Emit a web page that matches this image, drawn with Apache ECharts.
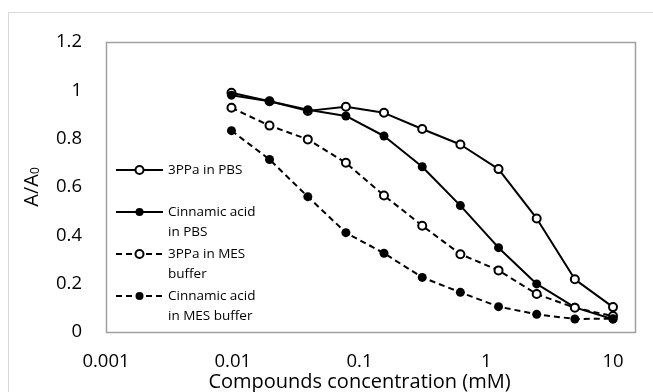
<!DOCTYPE html>
<html>
<head>
<meta charset="utf-8">
<script src="https://cdn.jsdelivr.net/npm/echarts@6/dist/echarts.min.js"></script>
<style>html,body{margin:0;padding:0;background:#fff;}#chart{width:653px;height:392px;}</style>
</head>
<body>
<div id="chart"></div>
<script>
// Concentrations (mM), two-fold dilution series
var concentrations = [0.00977, 0.0195, 0.0391, 0.0781, 0.156, 0.3125, 0.625, 1.25, 2.5, 5, 10];
var ppaPBS = [0.99, 0.955, 0.915, 0.932, 0.907, 0.84, 0.776, 0.674, 0.47, 0.218, 0.103];
var cinnPBS = [0.98, 0.955, 0.92, 0.894, 0.811, 0.684, 0.523, 0.349, 0.199, 0.102, 0.053];
var ppaMES = [0.928, 0.854, 0.797, 0.70, 0.565, 0.44, 0.322, 0.255, 0.157, 0.10, 0.066];
var cinnMES = [0.833, 0.714, 0.56, 0.411, 0.326, 0.226, 0.164, 0.105, 0.073, 0.054, 0.055];
var seriesNames = ['3PPa in PBS', 'Cinnamic acid\nin PBS', '3PPa in MES\nbuffer', 'Cinnamic acid\nin MES buffer'];
var xTickValues = [0.001, 0.01, 0.1, 1, 10];
var xTickLabels = ['0.001', '0.01', '0.1', '1', '10'];
var yTickLabels = ['0', '0.2', '0.4', '0.6', '0.8', '1', '1.2'];

var FONT = '"Open Sans"';
function pairs(vals) { return concentrations.map(function (c, i) { return [c, vals[i]]; }); }
function mkSeries(name, vals, open, dashed) {
  return {
    name: name, type: 'line', data: pairs(vals),
    symbol: 'circle', symbolSize: open ? 8 : 9,
    showAllSymbol: true,
    lineStyle: { color: '#000', width: 2, type: dashed ? [6, 4] : 'solid' },
    itemStyle: open ? { color: '#fff', borderColor: '#000', borderWidth: 2 } : { color: '#000', borderColor: '#000', borderWidth: 0 },
    emphasis: { disabled: true },
    z: 3
  };
}
var chart = echarts.init(document.getElementById('chart'));
chart.setOption({
  animation: false,
  backgroundColor: '#fff',
  grid: { left: 106, right: 40, top: 42, bottom: 60, containLabel: false, outerBoundsMode: 'none' },
  graphic: [
    { type: 'rect', shape: { x: 8.5, y: 12.5, width: 700, height: 420 }, style: { fill: 'none', stroke: '#d9d9d9', lineWidth: 1 }, z: -10 },
    { type: 'rect', shape: { x: 106.5, y: 42.5, width: 529, height: 290 }, style: { fill: 'none', stroke: '#a0a0a0', lineWidth: 1.5 }, z: 1 }
  ],
  xAxis: {
    type: 'log', logBase: 10, min: 0.001, max: 10,
    axisLine: { show: false }, axisTick: { show: false }, splitLine: { show: false },
    axisLabel: {
      margin: 20, fontFamily: FONT, fontSize: 18.5, color: '#000',
      formatter: function (v) {
        for (var i = 0; i < xTickValues.length; i++) {
          if (Math.abs(Math.log10(v) - Math.log10(xTickValues[i])) < 1e-6) return xTickLabels[i];
        }
        return '';
      }
    },
    name: 'Compounds concentration (mM)', nameLocation: 'middle', nameGap: 40, nameMoveOverlap: false,
    nameTextStyle: { fontFamily: FONT, fontSize: 20, color: '#000' }
  },
  yAxis: {
    type: 'value', min: 0, max: 1.2, interval: 0.2,
    axisLine: { show: false }, axisTick: { show: false }, splitLine: { show: false },
    axisLabel: {
      margin: 24, fontFamily: FONT, fontSize: 18.5, color: '#000',
      formatter: function (v) { return yTickLabels[Math.round(v / 0.2)]; }
    },
    name: 'A/A{s|0}', nameLocation: 'middle', nameGap: 64, nameRotate: 90, nameMoveOverlap: false,
    nameTextStyle: { fontFamily: FONT, fontSize: 20, color: '#000', rich: { s: { fontFamily: FONT, fontSize: 12, color: '#000', padding: [8, 0, 0, 0] } } }
  },
  legend: {
    orient: 'vertical', left: 115, top: 140, padding: 0,
    itemWidth: 47, itemHeight: 10, itemGap: -18,
    data: seriesNames,
    formatter: function (n) { return '\n' + (n.indexOf('\n') < 0 ? n + '\n ' : n); },
    textStyle: { fontFamily: FONT, fontSize: 13.5, color: '#000', lineHeight: 20 },
    selectedMode: false
  },
  series: [
    mkSeries(seriesNames[0], ppaPBS, true, false),
    mkSeries(seriesNames[1], cinnPBS, false, false),
    mkSeries(seriesNames[2], ppaMES, true, true),
    mkSeries(seriesNames[3], cinnMES, false, true)
  ]
});
</script>
</body>
</html>
